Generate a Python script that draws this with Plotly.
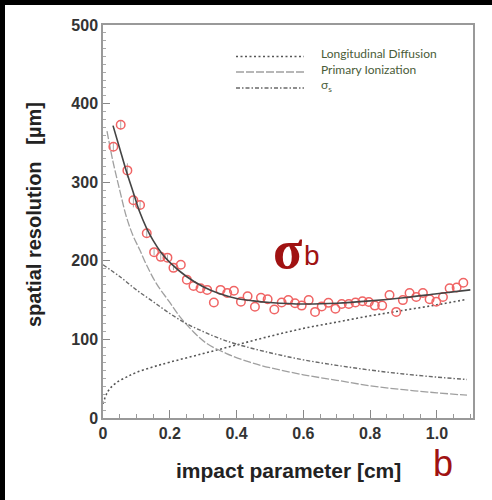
import plotly.graph_objects as go

# ---------------- data ----------------
meas_x = [0.031, 0.053, 0.073, 0.091, 0.111, 0.131, 0.153, 0.173, 0.193, 0.211,
          0.233, 0.251, 0.271, 0.292, 0.312, 0.332, 0.352, 0.372, 0.392, 0.413,
          0.433, 0.455, 0.473, 0.493, 0.513, 0.535, 0.555, 0.575, 0.595, 0.616,
          0.635, 0.655, 0.675, 0.696, 0.715, 0.736, 0.756, 0.777, 0.796, 0.814,
          0.836, 0.858, 0.878, 0.898, 0.918, 0.938, 0.958, 0.978, 0.998, 1.018,
          1.038, 1.059, 1.079]
meas_y = [345, 373, 315, 277, 271, 235, 211, 205, 204, 191,
          195, 176, 168, 165, 163, 147, 163, 159, 162, 148,
          155, 141.5, 153, 151, 138, 147, 150, 146, 143, 150,
          135, 142, 146.5, 139, 145, 145, 147, 148.5, 147.5, 143,
          143, 156.5, 135, 150, 159, 154, 159, 151, 148, 154,
          165, 166, 172]
meas_err = [6, 6, 9, 9, 6, 5, 4, 4, 4, 3] + [0] * 43

fit_x = [0.03, 0.05, 0.07, 0.09, 0.11, 0.13, 0.15, 0.175, 0.2, 0.25, 0.3, 0.35,
         0.4, 0.45, 0.5, 0.6, 0.7, 0.8, 0.9, 1.0, 1.1]
fit_y = [372, 343, 314, 288, 262, 242, 226, 210, 198, 180, 167, 158,
         152, 149, 147, 145, 146, 149, 153, 158, 163]

diff_x = [0.0, 0.01, 0.02, 0.04, 0.07, 0.1, 0.15, 0.2, 0.3, 0.4, 0.5, 0.6,
          0.7, 0.8, 0.9, 1.0, 1.09]
diff_y = [18, 30, 37, 45, 52, 58, 65, 71, 82, 93, 104, 114,
          122, 130, 137, 144, 151]

prim_x = [0.012, 0.03, 0.05, 0.07, 0.09, 0.11, 0.13, 0.16, 0.2, 0.23, 0.27,
          0.31, 0.37, 0.44, 0.5, 0.6, 0.7, 0.8, 0.9, 1.0, 1.09]
prim_y = [365, 326, 290, 256, 232, 214, 195, 171, 147, 129, 110,
          95, 82, 71, 64, 55, 48, 41, 36, 32, 29]

sigs_x = [0.0, 0.05, 0.1, 0.15, 0.2, 0.25, 0.3, 0.35, 0.4, 0.5, 0.6, 0.7,
          0.8, 0.9, 1.0, 1.09]
sigs_y = [195, 180, 163, 148, 133, 120, 110, 101, 94, 83, 74, 67,
          61, 56, 52, 49]

x_tickvals = [0, 0.2, 0.4, 0.6, 0.8, 1.0]
x_ticktext = ["0", "0.2", "0.4", "0.6", "0.8", "1.0"]
y_tickvals = [0, 100, 200, 300, 400, 500]

legend_names = ["Longitudinal Diffusion", "Primary Ionization", "σ<sub>s</sub>"]

# ---------------- figure ----------------
fig = go.Figure()

fig.add_trace(go.Scatter(x=diff_x, y=diff_y, mode="lines", line_shape="spline",
                         line=dict(color="#555555", width=1.6, dash="2px,2.5px"),
                         showlegend=False, hoverinfo="skip"))
fig.add_trace(go.Scatter(x=prim_x, y=prim_y, mode="lines", line_shape="spline",
                         line=dict(color="#a0a0a0", width=1.3, dash="8px,2px"),
                         showlegend=False, hoverinfo="skip"))
fig.add_trace(go.Scatter(x=sigs_x, y=sigs_y, mode="lines", line_shape="spline",
                         line=dict(color="#6a6a6a", width=1.4, dash="4px,2px,1.5px,2px"),
                         showlegend=False, hoverinfo="skip"))
fig.add_trace(go.Scatter(x=meas_x, y=meas_y, mode="markers",
                         marker=dict(symbol="circle-open", size=8.5,
                                     color="#f06464", line=dict(width=1.5, color="#f06464")),
                         error_y=dict(type="data", array=meas_err, color="#aaaaaa",
                                      thickness=1, width=0),
                         showlegend=False, hoverinfo="skip"))
fig.add_trace(go.Scatter(x=fit_x, y=fit_y, mode="lines", line_shape="spline",
                         line=dict(color="#444444", width=1.6),
                         showlegend=False, hoverinfo="skip"))

# zero margins: paper coordinates == whole figure; the plot area is set by domains
W, H = 492, 500


def px(xp):
    return xp / W


def py(yp):
    return 1 - yp / H


shapes = [
    # black frame strips on the left and top edge
    dict(type="rect", xref="paper", yref="paper", x0=px(0), x1=px(5), y0=py(500), y1=py(0),
         fillcolor="black", line=dict(width=0), layer="above"),
    dict(type="rect", xref="paper", yref="paper", x0=px(0), x1=px(492), y0=py(5), y1=py(0),
         fillcolor="black", line=dict(width=0), layer="above"),
]
# legend keys
leg_styles = [("#555555", "2px,2.5px", 1.6), ("#a0a0a0", "8px,2px", 1.3),
              ("#6a6a6a", "4px,2px,1.5px,2px", 1.4)]
leg_rows = [56.5, 72, 88]
for (col, dsh, wd), yy in zip(leg_styles, leg_rows):
    shapes.append(dict(type="line", xref="paper", yref="paper", x0=px(236), x1=px(304),
                       y0=py(yy), y1=py(yy), line=dict(color=col, width=wd, dash=dsh)))

annotations = []
for name, yy in zip(legend_names, [53.5, 69, 85]):
    annotations.append(dict(text=name, xref="paper", yref="paper", x=px(319), y=py(yy),
                            xanchor="left", yanchor="middle", showarrow=False,
                            font=dict(family="Lato, Arial", size=12, color="#4a5c38")))

annotations += [
    dict(text="<b>spatial resolution   [µm]</b>", xref="paper", yref="paper",
         x=px(34), y=py(215), textangle=-90, showarrow=False,
         xanchor="center", yanchor="middle",
         font=dict(family="Liberation Sans, Arial", size=20, color="#222222")),
    dict(text="<b>impact parameter [cm]</b>", xref="paper", yref="paper",
         x=px(288), y=py(470), showarrow=False, xanchor="center", yanchor="middle",
         font=dict(family="Liberation Sans, Arial", size=21, color="#222222")),
    dict(text="b", xref="paper", yref="paper", x=px(443), y=py(463), showarrow=False,
         xanchor="center", yanchor="middle",
         font=dict(family="Liberation Sans, Arial", size=36, color="#a01212")),
    dict(text="<b>σ</b>", xref="paper", yref="paper",
         x=px(288), y=py(250), showarrow=False, xanchor="center", yanchor="middle",
         font=dict(family="Liberation Serif, Times New Roman", size=54, color="#a01212")),
    dict(text="b", xref="paper", yref="paper",
         x=px(312), y=py(255), showarrow=False, xanchor="center", yanchor="middle",
         font=dict(family="Liberation Sans, Arial", size=28, color="#a01212")),
]

fig.update_layout(
    width=W, height=H,
    margin=dict(l=0, r=0, t=0, b=0, pad=0),
    paper_bgcolor="white", plot_bgcolor="white",
    shapes=shapes, annotations=annotations,
    xaxis=dict(domain=[px(103), px(473)], automargin=False,
               range=[0, 1.108], tickvals=x_tickvals,
               ticktext=["<b>%s</b>" % t for t in x_ticktext],
               ticks="inside", ticklen=8, tickcolor="#888888", tickwidth=1,
               minor=dict(dtick=0.05, ticks="inside", ticklen=4, tickcolor="#999999"),
               showgrid=False, zeroline=False, showline=True, mirror=True,
               linecolor="#999999", linewidth=1.5,
               tickfont=dict(family="Liberation Sans, Arial", size=16, color="#333333")),
    yaxis=dict(domain=[py(418), py(25)], automargin=False,
               range=[0, 500], tickvals=y_tickvals,
               ticktext=["<b>%d</b>" % v for v in y_tickvals],
               ticks="inside", ticklen=7, tickcolor="#888888", tickwidth=1,
               minor=dict(dtick=10, ticks="inside", ticklen=3, tickcolor="#aaaaaa"),
               showgrid=False, zeroline=False, showline=True, mirror=True,
               linecolor="#999999", linewidth=1.5,
               tickfont=dict(family="Liberation Sans, Arial", size=16, color="#333333")),
)

post = ("document.body.style.margin='0';"
        "document.body.style.overflow='hidden';")

fig.write_html("out.html", config={"displayModeBar": False}, post_script=post)
